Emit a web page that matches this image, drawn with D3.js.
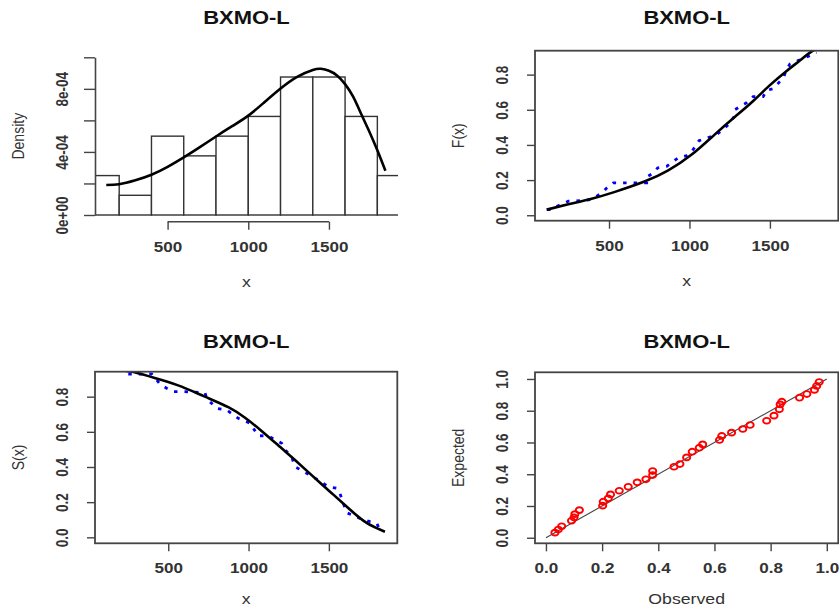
<!DOCTYPE html>
<html><head><meta charset="utf-8">
<script src="https://cdn.jsdelivr.net/npm/d3@7"></script>
<style>body{margin:0;background:#fff}svg{display:block}</style>
</head><body>
<script>
// ---------------- DATA ----------------
const titleText = "BXMO-L";
// Panel 1: histogram (bin edges + density) and fitted density curve
const histEdges = [0, 200, 400, 600, 800, 1000, 1200, 1400, 1600, 1800, 2000];
const histDensity = [2.5e-4, 1.25e-4, 5.0e-4, 3.75e-4, 5.0e-4, 6.25e-4, 8.75e-4, 8.75e-4, 6.25e-4, 2.5e-4];
const densX = [120, 200, 300, 400, 500, 600, 700, 800, 900, 1000, 1100, 1200, 1300, 1400, 1450, 1500, 1550, 1600, 1650, 1700, 1750, 1800, 1850];
const densY = [1.9e-4, 1.95e-4, 2.2e-4, 2.55e-4, 3.05e-4, 3.65e-4, 4.3e-4, 4.98e-4, 5.63e-4, 6.3e-4, 7.15e-4, 8.02e-4, 8.75e-4, 9.2e-4, 9.27e-4, 9.15e-4, 8.85e-4, 8.3e-4, 7.5e-4, 6.4e-4, 5.3e-4, 4.1e-4, 2.8e-4];
const densTicks = [0, 2e-4, 4e-4, 6e-4, 8e-4, 1e-3];
const densTickLabels = ["0e+00", "", "4e-04", "", "8e-04", ""];
const xTicks = [500, 1000, 1500];

// Panel 2: empirical and fitted CDF
const empFX = [113, 132, 247, 320, 392, 455, 486, 527, 595, 661, 734, 734, 775, 802, 858, 899, 930, 982, 1013, 1059, 1169, 1241, 1278, 1282, 1355, 1396, 1458, 1479, 1520, 1551, 1583, 1603, 1624, 1676, 1728, 1790];
const empF = [0.032, 0.032, 0.08, 0.083, 0.089, 0.127, 0.155, 0.184, 0.184, 0.184, 0.184, 0.218, 0.24, 0.269, 0.278, 0.306, 0.326, 0.339, 0.36, 0.424, 0.458, 0.515, 0.562, 0.6, 0.64, 0.675, 0.675, 0.71, 0.72, 0.75, 0.78, 0.827, 0.86, 0.88, 0.9, 0.925];
const fitFX = [113, 247, 392, 537, 724, 868, 1014, 1158, 1283, 1396, 1500, 1604, 1686, 1738, 1800];
const fitF = [0.032, 0.062, 0.094, 0.133, 0.193, 0.255, 0.345, 0.46, 0.56, 0.65, 0.74, 0.821, 0.88, 0.918, 0.955];

// Panel 3: empirical and fitted survival
const empSX = [251, 334, 397, 448, 490, 531, 593, 729, 739, 801, 864, 936, 1009, 1060, 1123, 1206, 1227, 1268, 1289, 1362, 1434, 1496, 1549, 1569, 1590, 1611, 1694, 1756, 1798, 1818];
const empS = [0.929, 0.929, 0.929, 0.872, 0.848, 0.829, 0.829, 0.823, 0.79, 0.734, 0.724, 0.677, 0.649, 0.578, 0.576, 0.535, 0.497, 0.459, 0.402, 0.364, 0.326, 0.288, 0.279, 0.25, 0.193, 0.14, 0.108, 0.089, 0.08, 0.042];
const fitSX = [150, 250, 313, 459, 583, 728, 874, 978, 1081, 1206, 1289, 1445, 1528, 1631, 1735, 1849];
const fitS = [0.96, 0.945, 0.933, 0.895, 0.857, 0.8, 0.74, 0.68, 0.605, 0.506, 0.44, 0.31, 0.243, 0.158, 0.082, 0.032];
const probTicks = [0, 0.2, 0.4, 0.6, 0.8];

// Panel 4: P-P plot
const ppObserved = [0.032, 0.044, 0.056, 0.091, 0.1, 0.103, 0.119, 0.202, 0.204, 0.222, 0.23, 0.261, 0.293, 0.325, 0.356, 0.38, 0.38, 0.456, 0.477, 0.501, 0.521, 0.546, 0.558, 0.618, 0.626, 0.661, 0.701, 0.727, 0.786, 0.812, 0.831, 0.834, 0.84, 0.903, 0.929, 0.956, 0.964, 0.973];
const ppExpected = [0.032, 0.052, 0.072, 0.107, 0.128, 0.149, 0.174, 0.202, 0.227, 0.248, 0.273, 0.296, 0.321, 0.349, 0.368, 0.395, 0.42, 0.447, 0.464, 0.506, 0.542, 0.567, 0.588, 0.616, 0.641, 0.662, 0.685, 0.71, 0.737, 0.769, 0.809, 0.84, 0.857, 0.882, 0.905, 0.931, 0.956, 0.981];
const ppTicks = [0, 0.2, 0.4, 0.6, 0.8, 1.0];

// ---------------- DRAWING ----------------
const W = 839, H = 609, SX = 1.22;
const FONT = "'Liberation Sans', Arial, Helvetica, sans-serif";
const AX = "#444", TXT = "#222";
const svg = d3.select("body").append("svg").attr("width", W).attr("height", H)
  .style("font-family", FONT);

function label(x, y, s, o = {}) {
  return svg.append("text")
    .attr("transform", `translate(${x},${y}) scale(${SX},1)` + (o.rotate ? ` rotate(${o.rotate})` : ""))
    .attr("text-anchor", "middle").attr("dy", o.dy || "0.35em")
    .attr("font-size", o.size || 14).attr("font-weight", o.weight || "normal")
    .attr("fill", o.fill || TXT).text(s);
}

function styleXAxis(g) {
  g.select(".domain").remove();
  g.selectAll(".tick line").attr("stroke", AX).attr("stroke-width", 1.4);
  g.selectAll(".tick text").attr("font-size", 14).attr("font-weight", "bold")
    .attr("font-family", FONT).attr("fill", "#333")
    .attr("y", 25).attr("dy", "0.35em").attr("transform", `scale(${SX},1)`);
}
function styleYAxis(g) {
  g.selectAll(".tick line").attr("stroke", AX).attr("stroke-width", 1.4);
  g.selectAll(".tick text").attr("font-size", 13.5).attr("font-weight", "bold")
    .attr("font-family", FONT).attr("fill", "#333")
    .attr("x", 0).attr("y", 0).attr("dy", "0.35em").attr("text-anchor", "middle")
    .attr("transform", `translate(-33,0) scale(${SX},1) rotate(-90)`);
}

function panel(box, xDomain, yDomain, id) {
  const x = d3.scaleLinear().domain(xDomain).range([box.l, box.r]);
  const y = d3.scaleLinear().domain(yDomain).range([box.b, box.t]);
  svg.append("clipPath").attr("id", id).append("rect")
    .attr("x", box.l).attr("y", box.t).attr("width", box.r - box.l).attr("height", box.b - box.t);
  return { x, y, clip: `url(#${id})` };
}

function drawBox(box) {
  svg.append("rect").attr("x", box.l).attr("y", box.t).attr("width", box.r - box.l).attr("height", box.b - box.t)
    .attr("fill", "none").attr("stroke", AX).attr("stroke-width", 1.8);
}

function titles(box, titleY, xl, yl, xlOff) {
  const cx = (box.l + box.r) / 2, cy = (box.t + box.b) / 2;
  label(cx, titleY, titleText, { size: 18, weight: "bold", fill: "#111" });
  label(cx, box.b + xlOff, xl, { size: 14.5, fill: "#333" });
  label(box.l - 77, cy, yl, { size: 14, rotate: -90, fill: "#333" });
}

const fmtInt = d3.format("d");
const fmt1 = d3.format(".1f");
const DOT = { w: 2.8, dash: "3.5,7" };

// ---- Panel 1: histogram ----
{
  const box = { l: 95, r: 398, t: 50.7, b: 221.7 };
  const x = d3.scaleLinear().domain([50, 1928]).range([box.l, box.r]);
  const y = d3.scaleLinear().domain([0, 1e-3]).range([215, 57.3]);
  svg.append("clipPath").attr("id", "c1").append("rect")
    .attr("x", box.l).attr("y", 0).attr("width", box.r - box.l).attr("height", box.b);
  const bins = histDensity.map((d, i) => ({ x0: histEdges[i], x1: histEdges[i + 1], d }));
  svg.append("g").attr("clip-path", "url(#c1)").selectAll("rect").data(bins).join("rect")
    .attr("x", d => x(d.x0)).attr("width", d => x(d.x1) - x(d.x0))
    .attr("y", d => y(d.d)).attr("height", d => y(0) - y(d.d))
    .attr("fill", "#fff").attr("stroke", "#333").attr("stroke-width", 1.4);
  const line = d3.line().x((d, i) => x(densX[i])).y(d => y(d)).curve(d3.curveNatural);
  svg.append("path").attr("d", line(densY)).attr("fill", "none").attr("stroke", "#000").attr("stroke-width", 2.6);
  const gx = svg.append("g").attr("transform", `translate(0,${box.b})`)
    .call(d3.axisBottom(x).tickValues(xTicks).tickSize(8).tickSizeOuter(0).tickFormat(fmtInt));
  styleXAxis(gx);
  svg.append("line").attr("x1", x(xTicks[0])).attr("x2", x(xTicks[xTicks.length - 1]))
    .attr("y1", box.b).attr("y2", box.b).attr("stroke", AX).attr("stroke-width", 1.6);
  const gy = svg.append("g").attr("transform", `translate(${box.l},0)`)
    .call(d3.axisLeft(y).tickValues(densTicks).tickSize(11).tickSizeOuter(0)
      .tickFormat((d, i) => densTickLabels[i]));
  gy.select(".domain").attr("stroke", AX).attr("stroke-width", 1.6);
  styleYAxis(gy);
  titles(box, 18, "x", "Density", 60);
}

// ---- Panel 2: CDF ----
{
  const box = { l: 535, r: 838.3, t: 50.7, b: 220.7 };
  const p = panel(box, [40, 1925], [-0.031, 0.936], "c2");
  const g = svg.append("g").attr("clip-path", p.clip);
  g.append("path").attr("d", d3.line().x((d, i) => p.x(empFX[i])).y(d => p.y(d))(empF))
    .attr("fill", "none").attr("stroke", "#0000ff").attr("stroke-width", DOT.w).attr("stroke-dasharray", DOT.dash);
  g.append("path").attr("d", d3.line().x((d, i) => p.x(fitFX[i])).y(d => p.y(d)).curve(d3.curveNatural)(fitF))
    .attr("fill", "none").attr("stroke", "#000").attr("stroke-width", 2.6);
  const gx = svg.append("g").attr("transform", `translate(0,${box.b})`)
    .call(d3.axisBottom(p.x).tickValues(xTicks).tickSize(8).tickSizeOuter(0).tickFormat(fmtInt));
  styleXAxis(gx);
  const gy = svg.append("g").attr("transform", `translate(${box.l},0)`)
    .call(d3.axisLeft(p.y).tickValues(probTicks).tickSize(8).tickSizeOuter(0).tickFormat(fmt1));
  gy.select(".domain").remove();
  styleYAxis(gy);
  drawBox(box);
  titles(box, 18, "x", "F(x)", 60);
}

// ---- Panel 3: Survival ----
{
  const box = { l: 95, r: 397.3, t: 371.7, b: 543.3 };
  const p = panel(box, [44, 1926], [-0.034, 0.942], "c3");
  const g = svg.append("g").attr("clip-path", p.clip);
  g.append("path").attr("d", d3.line().x((d, i) => p.x(empSX[i])).y(d => p.y(d))(empS))
    .attr("fill", "none").attr("stroke", "#0000ff").attr("stroke-width", DOT.w).attr("stroke-dasharray", DOT.dash);
  g.append("path").attr("d", d3.line().x((d, i) => p.x(fitSX[i])).y(d => p.y(d)).curve(d3.curveNatural)(fitS))
    .attr("fill", "none").attr("stroke", "#000").attr("stroke-width", 2.6);
  const gx = svg.append("g").attr("transform", `translate(0,${box.b})`)
    .call(d3.axisBottom(p.x).tickValues(xTicks).tickSize(8).tickSizeOuter(0).tickFormat(fmtInt));
  styleXAxis(gx);
  const gy = svg.append("g").attr("transform", `translate(${box.l},0)`)
    .call(d3.axisLeft(p.y).tickValues(probTicks).tickSize(8).tickSizeOuter(0).tickFormat(fmt1));
  gy.select(".domain").remove();
  styleYAxis(gy);
  drawBox(box);
  titles(box, 341.7, "x", "S(x)", 56);
}

// ---- Panel 4: P-P plot ----
{
  const box = { l: 535, r: 838.3, t: 372.3, b: 543.3 };
  const p = panel(box, [-0.039, 1.041], [-0.035, 1.042], "c4");
  const g = svg.append("g").attr("clip-path", p.clip);
  g.append("line").attr("x1", p.x(0)).attr("y1", p.y(0)).attr("x2", p.x(1)).attr("y2", p.y(1))
    .attr("stroke", "#444").attr("stroke-width", 1.1);
  g.selectAll("ellipse").data(ppObserved).join("ellipse")
    .attr("cx", d => p.x(d)).attr("cy", (d, i) => p.y(ppExpected[i]))
    .attr("rx", 3.6).attr("ry", 2.9)
    .attr("fill", "none").attr("stroke", "#ff0000").attr("stroke-width", 1.9);
  const gx = svg.append("g").attr("transform", `translate(0,${box.b})`)
    .call(d3.axisBottom(p.x).tickValues(ppTicks).tickSize(8).tickSizeOuter(0).tickFormat(fmt1));
  styleXAxis(gx);
  const gy = svg.append("g").attr("transform", `translate(${box.l},0)`)
    .call(d3.axisLeft(p.y).tickValues(ppTicks).tickSize(8).tickSizeOuter(0).tickFormat(fmt1));
  gy.select(".domain").remove();
  styleYAxis(gy);
  drawBox(box);
  titles(box, 341.7, "Observed", "Expected", 56);
}
</script>
</body></html>
